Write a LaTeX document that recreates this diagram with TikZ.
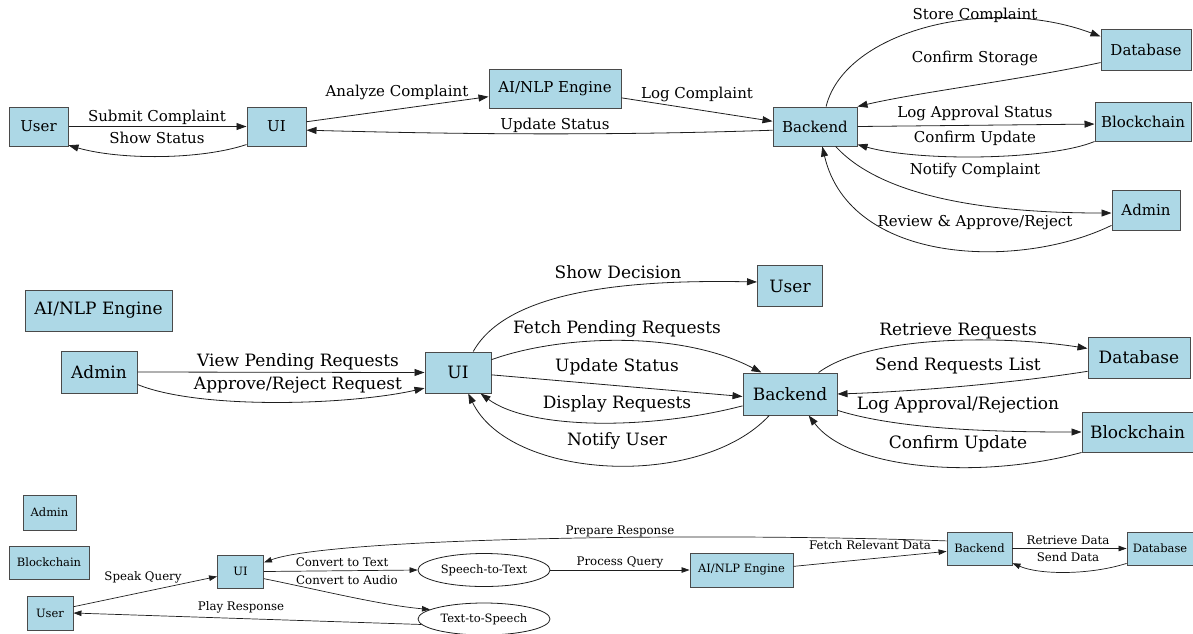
\documentclass[tikz,border=0pt]{standalone}
\usepackage{fontspec}
\setmainfont{DejaVu Serif}
\usetikzlibrary{arrows.meta,shapes.geometric}
\definecolor{boxfill}{HTML}{ADD8E6}
\definecolor{boxline}{HTML}{4A4A4A}
\definecolor{edgecol}{HTML}{1E1E1E}
\tikzset{
  boxA/.style={draw=boxline,fill=boxfill,line width=1pt,inner sep=0pt,font=\fontsize{15}{17}\selectfont},
  boxB/.style={draw=boxline,fill=boxfill,line width=1pt,inner sep=0pt,font=\fontsize{17}{19}\selectfont},
  boxC/.style={draw=boxline,fill=boxfill,line width=0.9pt,inner sep=0pt,font=\fontsize{11.5}{13}\selectfont},
  ellC/.style={draw=edgecol,ellipse,line width=0.8pt,inner sep=0pt,font=\fontsize{11.5}{13}\selectfont},
  arrA/.style={draw=edgecol,line width=0.8pt,-{Triangle[length=10pt,width=7pt]}},
  arrC/.style={draw=edgecol,line width=0.7pt,-{Triangle[length=8pt,width=5.5pt]}},
  labA/.style={inner sep=0pt,font=\fontsize{15}{17}\selectfont},
  labB/.style={inner sep=0pt,font=\fontsize{17}{19}\selectfont},
  labC/.style={inner sep=0pt,font=\fontsize{11.8}{13}\selectfont},
}
\begin{document}
\begin{tikzpicture}[x=1pt,y=-1pt]
\useasboundingbox (0,0) rectangle (1193,633);
% ---------------- Section 1 ----------------
\node[boxA,minimum width=59pt,minimum height=39pt] (u1) at (38.5,126.5) {User};
\node[boxA,minimum width=59pt,minimum height=39pt] (ui1) at (276.5,126.5) {UI};
\node[boxA,minimum width=132pt,minimum height=39pt] (ai1) at (555,88.5) {AI/NLP Engine};
\node[boxA,minimum width=84pt,minimum height=39pt] (be1) at (815,126.5) {Backend};
\node[boxA,minimum width=90pt,minimum height=41pt] (db1) at (1146,49.5) {Database};
\node[boxA,minimum width=96pt,minimum height=39pt] (bc1) at (1143,121.5) {Blockchain};
\node[boxA,minimum width=68pt,minimum height=40pt] (ad1) at (1146,210) {Admin};

\draw[arrA] (u1.east) -- (ui1.west) node[labA] at (157,117) {Submit Complaint};
\draw[arrA] (ui1.211) .. controls (200,160) and (120,160) .. (u1.328) node[labA] at (157,138) {Show Status};
\draw[arrA] (ui1.9) -- (ai1.187) node[labA] at (397,92) {Analyze Complaint};
\draw[arrA] (ai1.352) -- (be1.173) node[labA] at (697,94) {Log Complaint};
\draw[arrA] (be1.185) .. controls (600,136) and (450,134) .. (ui1.353) node[labA] at (555,125) {Update Status};
\draw[arrA] (be1.61) .. controls (845,30) and (990,-5) .. (db1.164) node[labA] at (975,15) {Store Complaint};
\draw[arrA] (db1.196) .. controls (1020,80) and (920,92) .. (be1.north east) node[labA] at (975,58) {Confirm Storage};
\draw[arrA] (be1.east) -- (bc1.183) node[labA] at (975,113) {Log Approval Status};
\draw[arrA] (bc1.south west) .. controls (1050,160) and (920,162) .. (be1.337) node[labA] at (975,138) {Confirm Update};
\draw[arrA] (be1.316) .. controls (880,195) and (980,213) .. (ad1.185) node[labA] at (975,170) {Notify Complaint};
\draw[arrA] (ad1.204) .. controls (1020,270) and (850,265) .. (be1.290) node[labA] at (975,223) {Review \& Approve/Reject};

% ---------------- Section 2 ----------------
\node[boxB,minimum width=147pt,minimum height=41pt] (ai2) at (98.5,310.5) {AI/NLP Engine};
\node[boxB,minimum width=76pt,minimum height=42pt] (ad2) at (99,372) {Admin};
\node[boxB,minimum width=66pt,minimum height=41pt] (ui2) at (458,372.5) {UI};
\node[boxB,minimum width=65pt,minimum height=41pt] (us2) at (790,286) {User};
\node[boxB,minimum width=94pt,minimum height=42pt] (be2) at (790,394) {Backend};
\node[boxB,minimum width=102pt,minimum height=41pt] (db2) at (1139,357.5) {Database};
\node[boxB,minimum width=111pt,minimum height=40pt] (bc2) at (1137.5,432) {Blockchain};

\draw[arrA] (ad2.east) -- (ui2.west) node[labB] at (298,362) {View Pending Requests};
\draw[arrA] (ad2.342) .. controls (200,410) and (350,405) .. (ui2.205) node[labB] at (298,385) {Approve/Reject Request};
\draw[arrA] (ui2.54) .. controls (510,285) and (650,280) .. (us2.173) node[labB] at (618,272) {Show Decision};
\draw[arrA] (ui2.21) .. controls (560,335) and (680,330) .. (be2.143) node[labB] at (617,329) {Fetch Pending Requests};
\draw[arrA] (ui2.356) -- (be2.183) node[labB] at (617,367) {Update Status};
\draw[arrA] (be2.194) .. controls (650,430) and (530,430) .. (ui2.317) node[labB] at (617,404) {Display Requests};
\draw[arrA] (be2.226) .. controls (700,490) and (510,480) .. (ui2.296) node[labB] at (617,441) {Notify User};
\draw[arrA] (be2.37) .. controls (870,335) and (1000,335) .. (db2.170) node[labB] at (958,331) {Retrieve Requests};
\draw[arrA] (db2.195) .. controls (1000,385) and (900,392) .. (be2.east) node[labB] at (958,366) {Send Requests List};
\draw[arrA] (be2.341) .. controls (900,430) and (1000,432) .. (bc2.west) node[labB] at (958,405) {Log Approval/Rejection};
\draw[arrA] (bc2.south west) .. controls (980,480) and (850,470) .. (be2.311) node[labB] at (958,444) {Confirm Update};

% ---------------- Section 3 ----------------
\node[boxC,minimum width=53pt,minimum height=35pt] (ad3) at (49.5,512.5) {Admin};
\node[boxC,minimum width=80pt,minimum height=33pt] (bc3) at (49,562.5) {Blockchain};
\node[boxC,minimum width=46pt,minimum height=34pt] (us3) at (50,613) {User};
\node[boxC,minimum width=46pt,minimum height=33pt] (ui3) at (240.5,571.5) {UI};
\node[ellC,minimum width=132pt,minimum height=33pt] (st) at (484,570) {Speech-to-Text};
\node[ellC,minimum width=132pt,minimum height=32pt] (ts) at (484,619) {Text-to-Speech};
\node[boxC,minimum width=103pt,minimum height=34pt] (ai3) at (741.5,570) {AI/NLP Engine};
\node[boxC,minimum width=65pt,minimum height=33pt] (be3) at (979.5,548.5) {Backend};
\node[boxC,minimum width=66pt,minimum height=33pt] (db3) at (1160,548.5) {Database};

\draw[arrC] (us3.15) -- (ui3.192) node[labC] at (143,577) {Speak Query};
\draw[arrC] (ui3.east) -- (st.west) node[labC] at (342,562) {Convert to Text};
\draw[arrC] (ui3.343) .. controls (320,590) and (380,605) .. (ts.170) node[labC] at (347,580) {Convert to Audio};
\draw[arrC] (ts.185) -- (us3.east) node[labC] at (241,607) {Play Response};
\draw[arrC] (st.east) -- (ai3.west) node[labC] at (620,562) {Process Query};
\draw[arrC] (ai3.4) -- (be3.185) node[labC] at (870,545) {Fetch Relevant Data};
\draw[arrC] (be3.167) .. controls (700,532) and (330,538) .. (ui3.21) node[labC] at (620,531) {Prepare Response};
\draw[arrC] (be3.east) -- (db3.west) node[labC] at (1068,540) {Retrieve Data};
\draw[arrC] (db3.204) .. controls (1090,575) and (1040,575) .. (be3.336) node[labC] at (1068,557) {Send Data};
\end{tikzpicture}
\end{document}
